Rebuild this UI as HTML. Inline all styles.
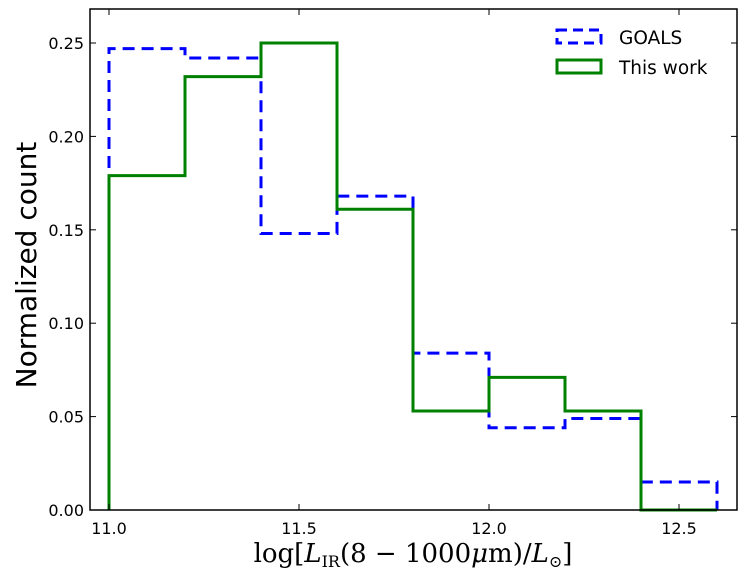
<!DOCTYPE html>
<html><head><meta charset="utf-8"><style>
body{margin:0;background:#fff}
svg text{font-family:"DejaVu Sans","Liberation Sans",sans-serif}
</style></head><body>
<svg id="c" width="747" height="580" xmlns="http://www.w3.org/2000/svg"></svg>
<script>
const binEdges=[11.0,11.2,11.4,11.6,11.8,12.0,12.2,12.4,12.6];
const goals=[0.247,0.242,0.148,0.168,0.084,0.044,0.049,0.015];
const thisWork=[0.179,0.232,0.250,0.161,0.053,0.071,0.053,0.0];
const xTicks=[11.0,11.5,12.0,12.5];
const xTickLabels=["11.0","11.5","12.0","12.5"];
const yTicks=[0,0.05,0.10,0.15,0.20,0.25];
const yTickLabels=["0.00","0.05","0.10","0.15","0.20","0.25"];

const L=90,R=737,T=9,B=510;
const X=v=>109+(v-11.0)*380;
const Y=v=>510-v*1868;
const svg=document.getElementById('c');
const NS='http://www.w3.org/2000/svg';
function mk(t,a,p){const e=document.createElementNS(NS,t);for(const k in a)e.setAttribute(k,a[k]);(p||svg).appendChild(e);return e;}

function stepPath(vals){
  let d=`M${X(binEdges[0])},${Y(0)}`;
  vals.forEach((v,i)=>{d+=` L${X(binEdges[i])},${Y(v)} L${X(binEdges[i+1])},${Y(v)}`;});
  d+=` L${X(binEdges[vals.length])},${Y(0)}`;
  return d;
}
const g1=mk('path',{d:stepPath(goals),fill:'none',stroke:'#0000ff','stroke-width':3,'stroke-dasharray':'12,7'});


const g2=mk('path',{d:stepPath(thisWork),fill:'none',stroke:'#008000','stroke-width':3});



const frame=mk('rect',{x:L,y:T,width:R-L,height:B-T,fill:'none',stroke:'#000','stroke-width':1.5});



xTicks.forEach((v,i)=>{
  mk('line',{x1:X(v),x2:X(v),y1:B,y2:B-6,stroke:'#000'});
  mk('line',{x1:X(v),x2:X(v),y1:T,y2:T+6,stroke:'#000'});
  const t=mk('text',{x:X(v),y:B+24,'text-anchor':'middle','font-size':16});
  t.textContent=xTickLabels[i];
  
  
});
yTicks.forEach((v,i)=>{
  mk('line',{x1:L,x2:L+6,y1:Y(v),y2:Y(v),stroke:'#000'});
  mk('line',{x1:R,x2:R-6,y1:Y(v),y2:Y(v),stroke:'#000'});
  const t=mk('text',{x:L-6,y:Y(v)+6,'text-anchor':'end','font-size':16});
  t.textContent=yTickLabels[i];
  
  
});
const yl=mk('text',{x:0,y:0,transform:'translate(36,265) rotate(-90)','text-anchor':'middle','font-size':28});
yl.textContent='Normalized count';


const xl=mk('text',{x:413,y:562,'text-anchor':'middle','font-size':26,style:'font-family:"DejaVu Serif","Liberation Serif",serif'});
xl.innerHTML='log[<tspan font-style="italic">L</tspan><tspan font-size="16" dy="5">IR</tspan><tspan dy="-5">(8 − 1000</tspan><tspan font-style="italic">μ</tspan>m)/</tspan><tspan font-style="italic">L</tspan><tspan font-size="16" dy="5">⊙</tspan><tspan dy="-5">]</tspan>';



const leg=mk('g',{});


mk('rect',{x:557,y:30,width:44,height:13,fill:'none',stroke:'#0000ff','stroke-width':3,'stroke-dasharray':'10,6'},leg);
mk('rect',{x:557,y:60,width:44,height:13,fill:'none',stroke:'#008000','stroke-width':3},leg);
const l1=mk('text',{x:619,y:44,'font-size':18.5},leg);l1.textContent='GOALS';


const l2=mk('text',{x:619,y:74,'font-size':18.5},leg);l2.textContent='This work';


</script>
</body></html>
